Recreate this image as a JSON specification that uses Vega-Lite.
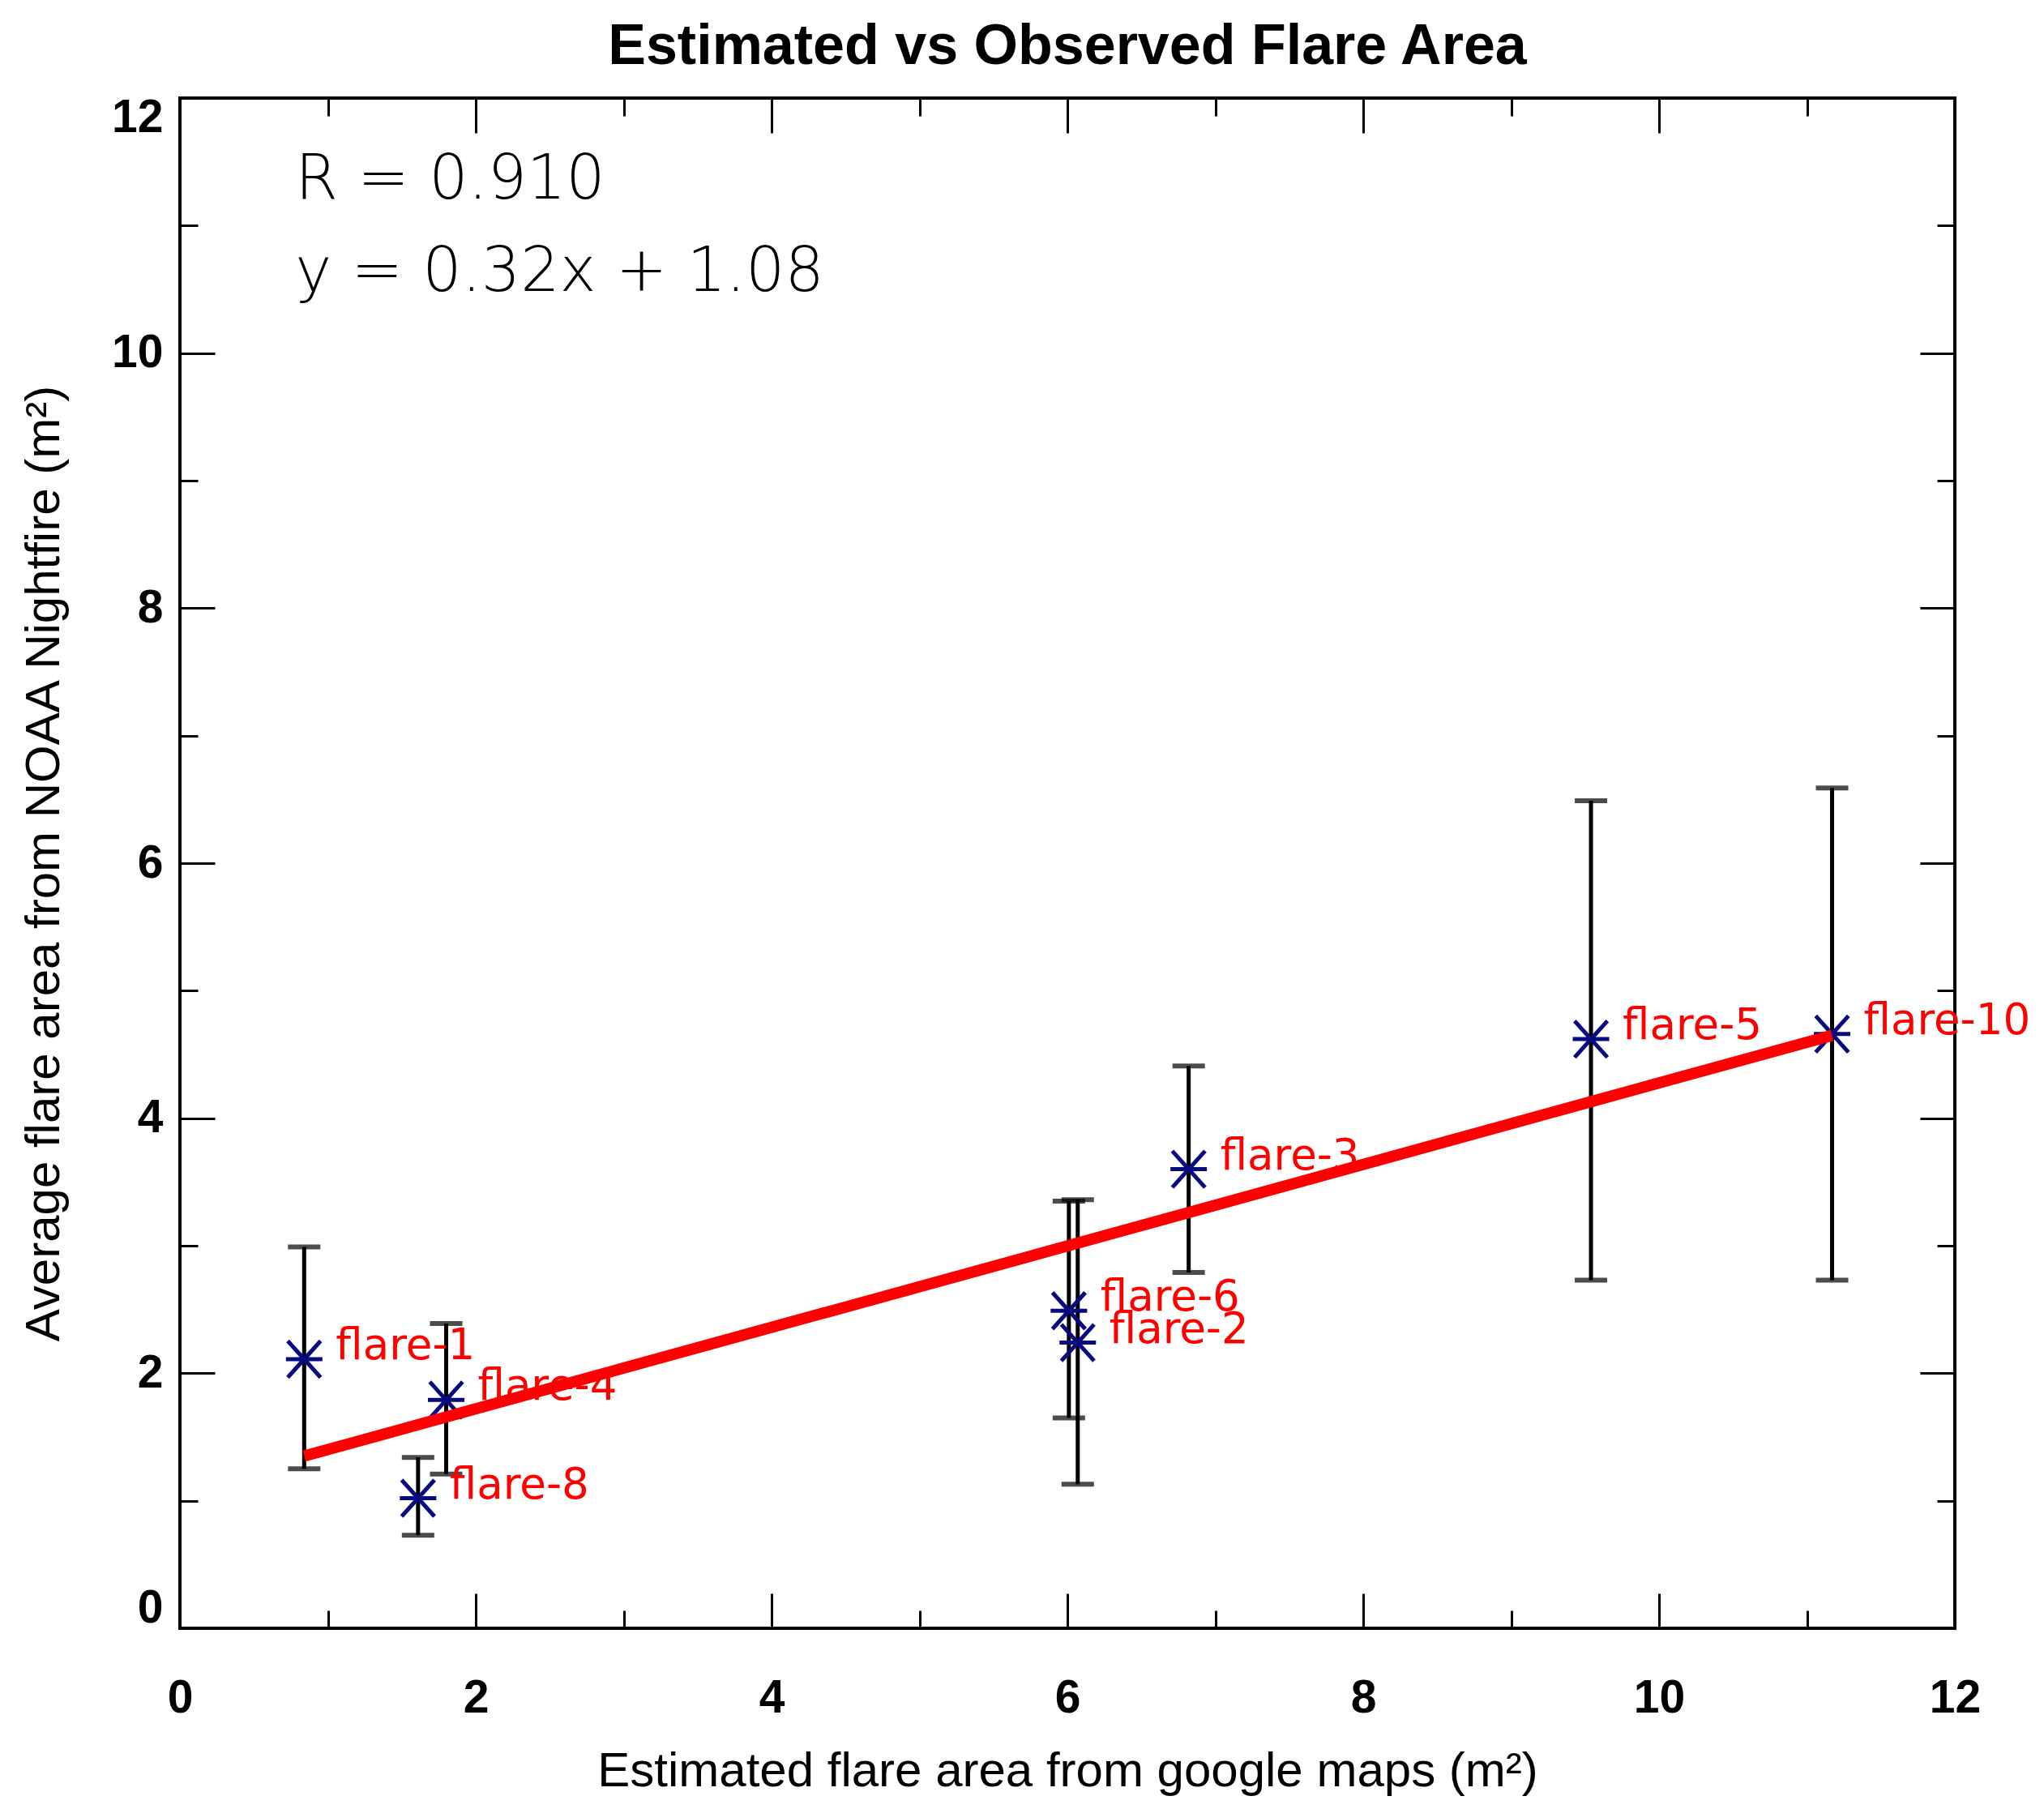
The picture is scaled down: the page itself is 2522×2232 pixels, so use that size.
{
  "$schema": "https://vega.github.io/schema/vega-lite/v6.json",
  "autosize": {"type": "none"},
  "width": 2190,
  "height": 1888,
  "padding": {"left": 222, "top": 121, "right": 110, "bottom": 223},
  "background": "white",
  "title": {
    "text": "Estimated vs Observed Flare Area",
    "anchor": "middle",
    "frame": "group",
    "baseline": "alphabetic",
    "offset": 41,
    "dy": 74,
    "font": "Liberation Sans",
    "fontSize": 70,
    "fontWeight": "bold",
    "color": "black"
  },
  "config": {
    "view": {"stroke": "black", "strokeWidth": 4},
    "axis": {
      "domain": false,
      "grid": false,
      "tickColor": "black",
      "tickWidth": 3,
      "labelFont": "Liberation Sans",
      "labelFontWeight": "bold",
      "labelFontSize": 57,
      "labelColor": "black",
      "titleFont": "Liberation Sans",
      "titleFontWeight": "normal",
      "titleFontSize": 60,
      "titleColor": "black"
    }
  },
  "datasets": {
    "flares": [
      {"name": "flare-1", "est": 0.84, "obs": 2.11, "lo": 1.25, "hi": 2.99},
      {"name": "flare-4", "est": 1.8, "obs": 1.79, "lo": 1.21, "hi": 2.39},
      {"name": "flare-8", "est": 1.61, "obs": 1.02, "lo": 0.73, "hi": 1.34},
      {"name": "flare-6", "est": 6.01, "obs": 2.49, "lo": 1.65, "hi": 3.35},
      {"name": "flare-2", "est": 6.07, "obs": 2.24, "lo": 1.13, "hi": 3.36},
      {"name": "flare-3", "est": 6.82, "obs": 3.6, "lo": 2.79, "hi": 4.41},
      {"name": "flare-5", "est": 9.54, "obs": 4.62, "lo": 2.73, "hi": 6.49},
      {"name": "flare-10", "est": 11.17, "obs": 4.66, "lo": 2.73, "hi": 6.59}
    ],
    "fit": [
      {"est": 0.84, "obs": 1.35},
      {"est": 11.17, "obs": 4.65}
    ],
    "notes": [
      {"est": 0.78, "obs": 11.21, "text": "R = 0.910"},
      {"est": 0.78, "obs": 10.49, "text": "y = 0.32x + 1.08"}
    ]
  },
  "resolve": {"axis": {"x": "independent", "y": "independent"}},
  "layer": [
    {
      "data": {"name": "flares"},
      "mark": {"type": "rule", "color": "black", "strokeWidth": 5},
      "encoding": {
        "x": {
          "field": "est",
          "type": "quantitative",
          "scale": {"domain": [0, 12], "nice": false},
          "axis": {
            "orient": "bottom",
            "values": [0, 2, 4, 6, 8, 10, 12],
            "format": "d",
            "tickSize": -43,
            "labelPadding": 101,
            "labelFlush": false,
            "title": "Estimated flare area from google maps (m²)",
            "titleX": 1095,
            "titleY": 194,
            "titleAlign": "center",
            "titleBaseline": "alphabetic"
          }
        },
        "y": {
          "field": "lo",
          "type": "quantitative",
          "scale": {"domain": [0, 12], "nice": false},
          "axis": {
            "orient": "left",
            "values": [0, 2, 4, 6, 8, 10, 12],
            "format": "d",
            "tickSize": -43,
            "labelPadding": 64,
            "labelFlush": true,
            "labelFlushOffset": 4,
            "title": "Average flare area from NOAA Nightfire (m²)",
            "titleX": -150,
            "titleY": 944,
            "titleAngle": -90,
            "titleAlign": "center",
            "titleBaseline": "alphabetic"
          }
        },
        "y2": {"field": "hi"}
      }
    },
    {
      "data": {"name": "flares"},
      "mark": {"type": "tick", "orient": "horizontal", "color": "black", "size": 40, "thickness": 6},
      "encoding": {
        "x": {
          "field": "est",
          "type": "quantitative",
          "axis": {"orient": "top", "values": [0, 2, 4, 6, 8, 10, 12], "tickSize": -43, "labels": false, "title": null}
        },
        "y": {
          "field": "hi",
          "type": "quantitative",
          "axis": {"orient": "right", "values": [0, 2, 4, 6, 8, 10, 12], "tickSize": -43, "labels": false, "title": null}
        }
      }
    },
    {
      "data": {"name": "flares"},
      "mark": {"type": "tick", "orient": "horizontal", "color": "black", "size": 40, "thickness": 6},
      "encoding": {
        "x": {
          "field": "est",
          "type": "quantitative",
          "axis": {"orient": "bottom", "values": [1, 3, 5, 7, 9, 11], "tickSize": -22, "labels": false, "title": null}
        },
        "y": {
          "field": "lo",
          "type": "quantitative",
          "axis": {"orient": "left", "values": [1, 3, 5, 7, 9, 11], "tickSize": -22, "labels": false, "title": null}
        }
      }
    },
    {
      "data": {"name": "flares"},
      "mark": {
        "type": "point",
        "shape": "M-1,0L1,0M-0.9,-1L0.9,1M-0.9,1L0.9,-1",
        "filled": false,
        "size": 2025,
        "color": "#0a0a80",
        "strokeWidth": 5,
        "opacity": 1
      },
      "encoding": {
        "x": {
          "field": "est",
          "type": "quantitative",
          "axis": {"orient": "top", "values": [1, 3, 5, 7, 9, 11], "tickSize": -22, "labels": false, "title": null}
        },
        "y": {
          "field": "obs",
          "type": "quantitative",
          "axis": {"orient": "right", "values": [1, 3, 5, 7, 9, 11], "tickSize": -22, "labels": false, "title": null}
        }
      }
    },
    {
      "data": {"name": "flares"},
      "mark": {
        "type": "text",
        "align": "left",
        "baseline": "alphabetic",
        "dx": 39,
        "font": "DejaVu Sans",
        "fontSize": 53,
        "color": "red"
      },
      "encoding": {
        "x": {"field": "est", "type": "quantitative", "axis": null},
        "y": {"field": "obs", "type": "quantitative", "axis": null},
        "text": {"field": "name"}
      }
    },
    {
      "data": {"name": "notes"},
      "mark": {
        "type": "text",
        "align": "left",
        "baseline": "alphabetic",
        "font": "DejaVu Sans",
        "fontSize": 76,
        "fontWeight": 200,
        "color": "black"
      },
      "encoding": {
        "x": {"field": "est", "type": "quantitative", "axis": null},
        "y": {"field": "obs", "type": "quantitative", "axis": null},
        "text": {"field": "text"}
      }
    },
    {
      "data": {"name": "fit"},
      "mark": {"type": "line", "color": "red", "strokeWidth": 14},
      "encoding": {
        "x": {"field": "est", "type": "quantitative", "axis": null},
        "y": {"field": "obs", "type": "quantitative", "axis": null}
      }
    }
  ]
}
